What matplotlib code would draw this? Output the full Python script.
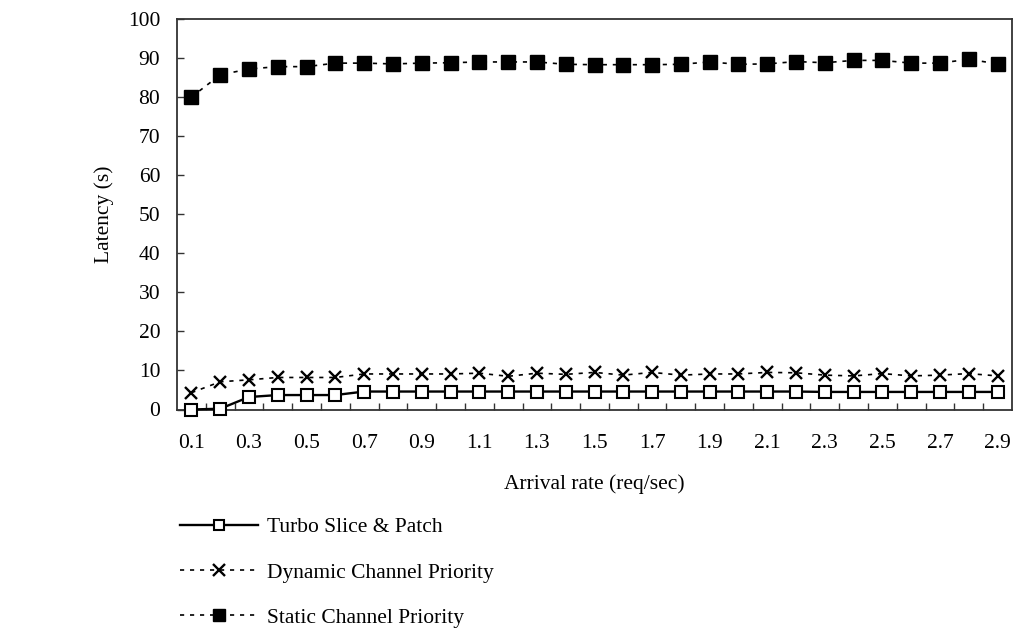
import matplotlib
matplotlib.use("Agg")
import matplotlib.pyplot as plt
from matplotlib.ticker import FixedLocator, NullFormatter

# Arrival rates (req/sec)
arrival_rate = [round(0.1 * i, 1) for i in range(1, 30)]

# Latency (s) for each scheduling scheme
turbo_slice_patch = [0.0, 0.2, 3.2, 3.7, 3.7, 3.7, 4.6, 4.6, 4.6, 4.6,
                     4.6, 4.6, 4.6, 4.6, 4.6, 4.6, 4.6, 4.6, 4.6, 4.6,
                     4.6, 4.6, 4.5, 4.5, 4.5, 4.5, 4.5, 4.5, 4.5]
dynamic_priority = [4.3, 7.1, 7.6, 8.2, 8.2, 8.2, 9.1, 9.1, 9.1, 9.1,
                    9.3, 8.5, 9.3, 9.0, 9.5, 8.8, 9.5, 8.8, 9.1, 9.1,
                    9.5, 9.4, 8.8, 8.6, 9.2, 8.6, 8.8, 9.2, 8.6]
static_priority = [80.0, 85.7, 87.2, 87.8, 87.8, 88.7, 88.7, 88.5, 88.7, 88.8,
                   89.0, 89.0, 89.0, 88.4, 88.3, 88.3, 88.3, 88.4, 89.0, 88.4,
                   88.5, 89.1, 88.8, 89.4, 89.4, 88.7, 88.7, 89.7, 88.5]

series_labels = ["Turbo Slice & Patch", "Dynamic Channel Priority",
                 "Static Channel Priority"]
xtick_labels = arrival_rate[::2]
yticks = list(range(0, 101, 10))

plt.rcParams["font.family"] = ["Liberation Serif", "DejaVu Serif"]
FS = 15.5

fig = plt.figure(figsize=(10.21, 6.30), dpi=100)
ax = fig.add_axes([177 / 1021, 1 - 409.5 / 630, 835 / 1021, 390.5 / 630])

h1, = ax.plot(arrival_rate, turbo_slice_patch, color="black", lw=1.7,
              marker="s", ms=8.6, mfc="white", mec="black", mew=1.5,
              clip_on=False, zorder=4)
h2, = ax.plot(arrival_rate, dynamic_priority, color="black", lw=1.2,
              dashes=(2.5, 3.5), marker="x", ms=9, mec="black", mew=1.7,
              zorder=3)
h3, = ax.plot(arrival_rate, static_priority, color="black", lw=1.2,
              dashes=(2.5, 3.5), marker="s", ms=9.4, mfc="black", mec="black",
              zorder=3)

ax.set_xlim(0.05, 2.95)
ax.set_ylim(0, 100)

# Labelled positions carry no tick marks; inward marks sit between categories
ax.xaxis.set_major_locator(FixedLocator(xtick_labels))
ax.set_xticklabels([f"{v:.1f}" for v in xtick_labels])
boundaries = [round(0.15 + 0.1 * i, 2) for i in range(28)]
ax.xaxis.set_minor_locator(FixedLocator(boundaries))
ax.xaxis.set_minor_formatter(NullFormatter())
ax.tick_params(axis="x", which="major", length=0, pad=18, labelsize=FS)
ax.tick_params(axis="x", which="minor", direction="in", length=5, width=1,
               color="#333333")

ax.set_yticks(yticks)
ax.tick_params(axis="y", direction="in", length=5, width=1, pad=12,
               labelsize=FS, color="#333333")

for sp in ax.spines.values():
    sp.set_color("#333333")
    sp.set_linewidth(1.3)

ax.set_xlabel("Arrival rate (req/sec)", fontsize=FS, labelpad=15)
ax.set_ylabel("Latency (s)", fontsize=FS, labelpad=10)

fig.legend([h1, h2, h3], series_labels, loc="upper left",
           bbox_to_anchor=(180 / 1021, 1 - 517 / 630), frameon=False,
           fontsize=FS, handlelength=3.6, handletextpad=0.45,
           labelspacing=1.18, borderpad=0, borderaxespad=0, markerscale=0.9)

fig.savefig("out.png", dpi=100, facecolor="white")
